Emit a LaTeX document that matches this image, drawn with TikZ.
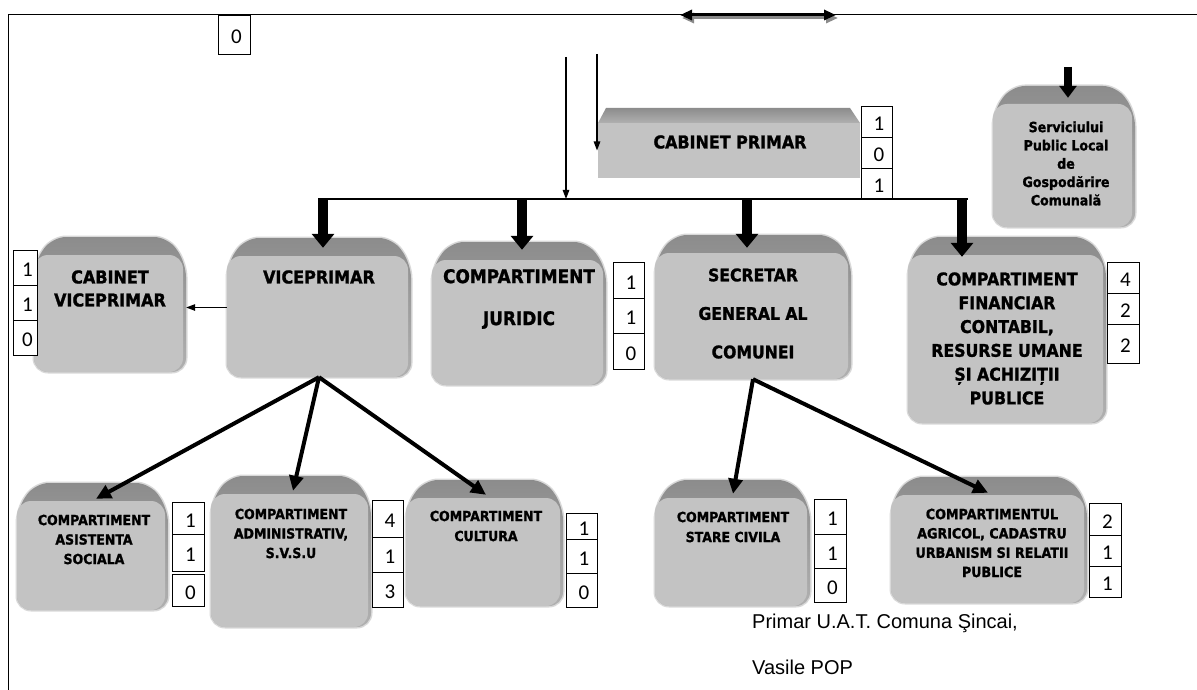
\documentclass[tikz,border=0pt]{standalone}
\usepackage{fontspec}
\setmainfont{DejaVu Sans}[BoldFeatures={FakeBold=1.3,FakeStretch=0.9}]
\newfontfamily\numfont{Carlito}
\newfontfamily\sigfont{Liberation Sans}
\usetikzlibrary{arrows.meta,calc}
\definecolor{facegray}{HTML}{C3C3C3}
\definecolor{bevtop}{HTML}{8C8C8C}
\definecolor{bevbot}{HTML}{B0B0B0}
\definecolor{halo}{HTML}{D9D9D9}
\definecolor{shadowgray}{HTML}{8A8A8A}
\newcommand\fsz[2]{\fontsize{#1bp}{#2bp}\selectfont}
% rounded 3D box: name, x0, y0, x1, y1
\newcommand\gbox[5]{%
  \draw[halo, line width=3bp, rounded corners=14bp]
    (#2,#3+26) -- (#2+18,#3) -- (#4-18,#3) -- (#4,#3+26) -- (#4,#5) -- (#2,#5) -- cycle;
  \shade[top color=bevtop, bottom color=bevbot, rounded corners=14bp]
    (#2,#3+26) -- (#2+18,#3) -- (#4-18,#3) -- (#4,#3+26) -- (#4,#5) -- (#2,#5) -- cycle;
  \fill[facegray, rounded corners=14bp] (#2,#3+18) rectangle (#4-3,#5);
  \node[boxarea, minimum width={(#4-#2)*1bp}, minimum height={(#5-#3)*1bp}]
    (#1) at ({(#2+#4)/2},{(#3+#5)/2}) {};
}
% number box: name, x0, x1, ya, yb, digit
\newcommand\nbox[6]{%
  \node[numbox, minimum width={(#3-#2)*1bp}, minimum height={(#5-#4)*1bp}]
    (#1) at ({(#2+#3)/2},{(#4+#5)/2}) {\hspace*{5bp}#6};
}
\begin{document}
\begin{tikzpicture}[x=1bp,y=-1bp,
  boxarea/.style={rectangle, inner sep=0pt, draw=none},
  numbox/.style={rectangle, draw=black, line width=0.9bp, fill=white, inner sep=0pt,
    text height=18.3bp, text depth=0pt, font=\numfont\fsz{21}{21}},
  bt/.style={align=center, inner sep=0pt, text=black},
  thickarrow/.style={line width=10bp, -{Triangle[length=14bp,width=22bp]}},
  fanarrow/.style={line width=4bp, -{Triangle[length=15bp,width=14bp]}},
  thinarrow/.style={line width=1.2bp, -{Triangle[length=9bp,width=6.5bp]}},
  dblarrow/.style={line width=3bp, {Triangle[length=12bp,width=10bp]}-{Triangle[length=12bp,width=10bp]}}
]
\useasboundingbox (0,0) rectangle (1197,690);
\fill[white] (0,0) rectangle (1197,690);

% frame
\draw[line width=1bp] (1197,15) -- (8.5,15) -- (8.5,690);

% boxes
\gbox{serv}{993}{86}{1135}{227}
\gbox{cabv}{34}{237}{186}{372}
\gbox{vice}{227}{238}{411}{377}
\gbox{jur}{432}{242}{606}{385}
\gbox{sec}{655}{235}{851}{379}
\gbox{fin}{908}{237}{1106}{423}
\gbox{asis}{17}{483}{168}{610}
\gbox{adm}{211}{476}{371}{627}
\gbox{cult}{406}{480}{563}{606}
\gbox{stare}{655}{480}{810}{606}
\gbox{agr}{891}{477}{1087}{603}

% cabinet primar (flat bevel)
\shade[top color=bevtop, bottom color=bevbot] (606,108) -- (850,108) -- (860,123) -- (598,123) -- cycle;
\node[boxarea, fill=facegray, minimum width=262bp, minimum height=55bp] (cabp) at (729,150.5) {};

% texts
\node[bt, font=\bfseries\fsz{17.7}{20}] (cabp-t) at (730,142) {CABINET PRIMAR};
\node[bt, font=\bfseries\fsz{14}{18.3}] (serv-t) at (1066,163.5) {Serviciului\\Public Local\\de\\Gospodărire\\Comunală};
\node[bt, font=\bfseries\fsz{17.8}{23}] (cabv-t) at (110,288.5) {CABINET\\VICEPRIMAR};
\node[bt, font=\bfseries\fsz{17.8}{20}] (vice-t) at (319,277) {VICEPRIMAR};
\node[bt, font=\bfseries\fsz{18.8}{42}] (jur-t) at (519,299) {COMPARTIMENT\\JURIDIC};
\node[bt, font=\bfseries\fsz{17.4}{38.5}] (sec-t) at (753,313.5) {SECRETAR\\GENERAL AL\\COMUNEI};
\node[bt, font=\bfseries\fsz{17.5}{23.8}] (fin-t) at (1007,338.5) {COMPARTIMENT\\FINANCIAR\\CONTABIL,\\RESURSE UMANE\\ȘI ACHIZIȚII\\PUBLICE};
\node[bt, font=\bfseries\fsz{13.9}{19.5}] (asis-t) at (94,539.5) {COMPARTIMENT\\ASISTENTA\\SOCIALA};
\node[bt, font=\bfseries\fsz{13.9}{19.5}] (adm-t) at (291,533.5) {COMPARTIMENT\\ADMINISTRATIV,\\S.V.S.U};
\node[bt, font=\bfseries\fsz{13.9}{20}] (cult-t) at (486,526) {COMPARTIMENT\\CULTURA};
\node[bt, font=\bfseries\fsz{13.9}{20}] (stare-t) at (733,527) {COMPARTIMENT\\STARE CIVILA};
\node[bt, font=\bfseries\fsz{14.1}{19.3}] (agr-t) at (992,543) {COMPARTIMENTUL\\AGRICOL, CADASTRU\\URBANISM SI RELATII\\PUBLICE};

% number boxes
\nbox{n0}{218}{250}{15}{54}{0}
\nbox{cp1}{861}{892}{106}{137}{1}
\nbox{cp2}{861}{892}{137}{168}{0}
\nbox{cp3}{861}{892}{168}{199}{1}
\nbox{cv1}{13}{37}{250}{285}{1}
\nbox{cv2}{13}{37}{285}{320}{1}
\nbox{cv3}{13}{37}{320}{355}{0}
\nbox{ju1}{613}{644}{262}{298}{1}
\nbox{ju2}{613}{644}{298}{333}{1}
\nbox{ju3}{613}{644}{333}{369}{0}
\nbox{fi1}{1107}{1139}{262}{293}{4}
\nbox{fi2}{1107}{1139}{293}{324}{2}
\nbox{fi3}{1107}{1139}{324}{363}{2}
\nbox{as1}{172}{204}{502}{534}{1}
\nbox{as2}{172}{204}{534}{571}{1}
\nbox{as3}{172}{204}{574}{606}{0}
\nbox{ad1}{372}{403}{500}{537}{4}
\nbox{ad2}{372}{403}{537}{572}{1}
\nbox{ad3}{372}{403}{572}{607}{3}
\nbox{cu1}{566}{597}{513}{539}{1}
\nbox{cu2}{566}{597}{539}{573}{1}
\nbox{cu3}{566}{597}{573}{607}{0}
\nbox{st1}{814}{846}{499}{534}{1}
\nbox{st2}{814}{846}{534}{568}{1}
\nbox{st3}{814}{846}{568}{602}{0}
\nbox{ag1}{1089}{1121}{503}{535}{2}
\nbox{ag2}{1089}{1121}{535}{566}{1}
\nbox{ag3}{1089}{1121}{566}{597}{1}

% signature
\node[anchor=base west, inner sep=0pt, font=\sigfont\fsz{20}{24}] (sig1) at (752,628) {Primar U.A.T. Comuna Şincai,};
\node[anchor=base west, inner sep=0pt, font=\sigfont\fsz{20}{24}] (sig2) at (752,674) {Vasile POP};

% coordinates
\coordinate (dl) at (680,15);
\coordinate (dr) at (836,15);
\coordinate (a1) at (566,57);
\coordinate (a2) at (597,54);
\coordinate (busL) at (318,199);
\coordinate (busR) at (968,199);
\coordinate (s0) at (1068,67);
\coordinate (vt) at ($(vice.north)+(4,10)$);
\coordinate (jt) at ($(jur.north)+(3,8)$);
\coordinate (sect) at ($(sec.north)+(-6,13)$);
\coordinate (ft) at ($(fin.north)+(-45,20)$);
\coordinate (svt) at ($(serv.north)+(4,12)$);

% top double arrow
\draw[dblarrow, shadowgray] ($(dl)+(2,3)$) -- ($(dr)+(2,3)$);
\draw[dblarrow, black] (dl) -- (dr);

% thin arrows
\draw[thinarrow] (a1) -- (a1 |- busL);
\draw[thinarrow] (a2) -- (a2 |- cabp.west);
\draw[thinarrow] (vice.west) -- (vice.west -| cabv.east);

% bus
\draw[line width=1.5bp] (busL) -- (busR);
\draw[thickarrow] (vt |- busL) -- (vt);
\draw[thickarrow] (jt |- busL) -- (jt);
\draw[thickarrow] (sect |- busL) -- (sect);
\draw[thickarrow] (ft |- busL) -- (ft);
\draw[line width=8bp, -{Triangle[length=12bp,width=17bp]}] (s0) -- (s0 |- svt);

% fans
\draw[fanarrow] (vice.south) -- ($(asis.north)+(3.5,16)$);
\draw[fanarrow] (vice.south) -- ($(adm.north)+(2,15)$);
\draw[fanarrow] (vice.south) -- ($(cult.north)+(1.5,15)$);
\draw[fanarrow] (sec.south) -- ($(stare.north)+(0.5,14)$);
\draw[fanarrow] (sec.south) -- ($(agr.north)+(-1,16)$);
\end{tikzpicture}
\end{document}
